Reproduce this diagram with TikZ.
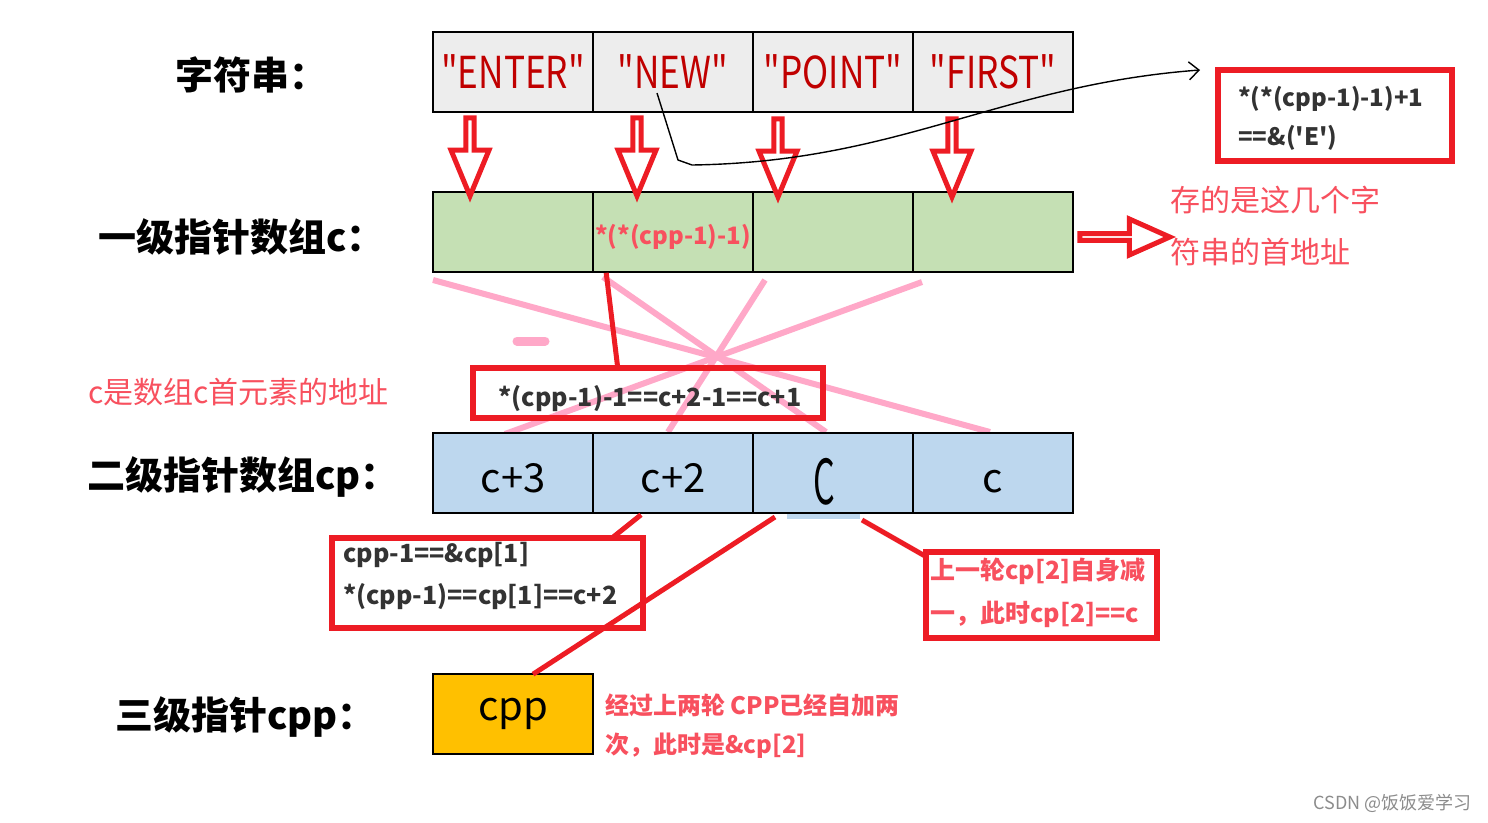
\documentclass[tikz,border=0pt]{standalone}
\usepackage{fontspec}
\setmainfont{Noto Sans CJK SC}[Ligatures=TeXOff]
\usetikzlibrary{shapes.arrows,arrows.meta}
\definecolor{strgray}{HTML}{EDEDED}
\definecolor{cgreen}{HTML}{C5E0B4}
\definecolor{cpblue}{HTML}{BDD7EE}
\definecolor{cppyellow}{HTML}{FFC000}
\definecolor{frame}{HTML}{ED1C24}
\definecolor{darkred}{HTML}{C00000}
\definecolor{notered}{HTML}{F8505E}
\definecolor{pinkline}{HTML}{FFA8C8}
\definecolor{darktext}{HTML}{333333}
\newcommand\pxsize[1]{\fontsize{#1}{#1}\selectfont}
\newcommand\cellword[1]{\scalebox{0.8}[1]{#1}}
\tikzset{cell/.style={
    rectangle,
    draw,
    line width=1.6pt,
    minimum width=160pt,
    minimum height=80pt,
    inner sep=0pt
  },
  strcell/.style={cell,fill=strgray,text=darkred,font=\pxsize{44}},
  ccell/.style={cell,fill=cgreen},
  cpcell/.style={cell,fill=cpblue,text=black,font=\pxsize{40},text height=38pt,text depth=0pt},
  cppcell/.style={cell,fill=cppyellow,text=black,font=\pxsize{40}},
  rowlabel/.style={anchor=west,font=\bfseries\pxsize{38},inner sep=0pt},
  redbox/.style={draw=frame,line width=6pt,inner sep=0pt},
  boxtext/.style={text=darktext,font=\bfseries\pxsize{25},align=left,inner sep=0pt},
  notetext/.style={text=notered,font=\pxsize{30},align=left,anchor=west,inner sep=0pt},
  hollowdown/.style={single arrow,draw=frame,fill=white,line width=5pt,
    minimum height=78pt,minimum width=38pt,single arrow head extend=9pt,
    single arrow tip angle=45,inner sep=0pt,shape border rotate=270},
  pinkl/.style={pinkline,line width=6pt},
  redl/.style={frame,line width=5pt},
}
\begin{document}
\begin{tikzpicture}[x=1pt,y=-1pt]
  \useasboundingbox[fill=white] (0,0) rectangle (1488,822);
  % row labels
  \node[rowlabel] (lstr) at (175,75) {字符串：};
  \node[rowlabel] (lc) at (98,237) {一级指针数组c：};
  \node[rowlabel] (lcp) at (87,477) {二级指针数组cp：};
  \node[rowlabel] (lcpp) at (115,717) {三级指针cpp：};
  % pink crossing lines
  \draw[pinkl] (433,280) -- (990,432);
  \draw[pinkl] (603,277) -- (826,432);
  \draw[pinkl] (765,280) -- (668,432);
  \draw[pinkl] (922,282) -- (505,434);
  \draw[pinkl,line width=9pt,line cap=round] (517,341) -- (545,341);
  % string row
  \node[strcell] (s1) at (513,72) {\cellword{"ENTER"}};
  \node[strcell] (s2) at (673,72) {\cellword{"NEW"}};
  \node[strcell] (s3) at (833,72) {\cellword{"POINT"}};
  \node[strcell] (s4) at (993,72) {\cellword{"FIRST"}};
  % first level pointers
  \node[ccell] (c1) at (513,232) {};
  \node[ccell,text height=24pt,text depth=0pt] (c2) at (673,232) {\textcolor{notered}{\bfseries\pxsize{24}*(*(cpp-1)-1)}};
  \node[ccell] (c3) at (833,232) {};
  \node[ccell] (c4) at (993,232) {};
  % second level pointers
  \fill[cpblue] (787,510) rectangle (860,519);
  \node[cpcell] (p1) at (513,473) {c+3};
  \node[cpcell] (p2) at (673,473) {c+2};
  \node[cpcell] (p3) at (833,473) {\hspace*{-18pt}\raisebox{-12pt}{\scalebox{0.85}[1.55]{C}}};
  \node[cpcell] (p4) at (993,473) {c};
  % third level pointer
  \node[cppcell] (cpp) at (513,714) {cpp};
  % hollow arrows
  \node[hollowdown] (a1) at (470,152) {};
  \node[hollowdown] (a2) at (637,152) {};
  \node[hollowdown] (a3) at (778,153) {};
  \node[hollowdown] (a4) at (952,153) {};
  \node[single arrow,draw=frame,fill=white,line width=5pt,minimum height=90pt,
    minimum width=36pt,single arrow head extend=11pt,single arrow tip angle=48,
    inner sep=0pt] (ar) at (1121,237) {};
  % black hand curve
  \coordinate (newtail) at (657,93);
  \coordinate (etip) at (1200,70);
  \draw[line width=1.4pt,-{Straight Barb[length=10pt,width=18pt]}] (newtail) -- (678,160)
    -- (692,165) .. controls (900,162) and (1000,85) .. (etip);
  % boxes
  \node[redbox,minimum width=234pt,minimum height=91pt] (bE) at (1335,115) {};
  \node[boxtext,anchor=north west,font=\bfseries\pxsize{24}] at (1238,86) {*(*(cpp-1)-1)+1\\[13pt]==\&('E')};
  \node[notetext] (nc) at (1170,200) {存的是这几个字};
  \node[notetext] at (1170,252) {符串的首地址};
  \node[notetext] (nfirst) at (88,392) {c是数组c首元素的地址};
  \node[redbox,minimum width=350pt,minimum height=50pt] (bmid) at (648,393) {};
  \node[boxtext] at (650,399) {*(cpp-1)-1==c+2-1==c+1};
  \node[redbox,minimum width=311pt,minimum height=90pt] (b1) at (487.5,583) {};
  \node[boxtext,anchor=north west] at (343,542) {cpp-1==\&cp[1]\\[15pt]*(cpp-1)==cp[1]==c+2};
  \node[redbox,minimum width=231pt,minimum height=86pt] (b3) at (1041.5,595) {};
  \node[boxtext,text=notered,anchor=north west] at (930,558) {上一轮cp[2]自身减\\[15pt]一，此时cp[2]==c};
  \node[boxtext,text=notered,anchor=north west,font=\bfseries\pxsize{24}] (ncpp) at (605,694) {经过上两轮 CPP已经自加两\\[15pt]次，此时是\&cp[2]};
  % red pointers
  \draw[redl] (c2.south west) ++(14,0) -- (618,370);
  \draw[redl] (p2.south) ++(-32,1) -- (612,538);
  \draw[redl] (775,517) -- ([shift={(20,1)}]cpp.north);
  \draw[redl] (862,520) -- (925,556);
  % watermark
  \node[text=black!45,font=\pxsize{18},anchor=east] (wm) at (1475,803) {CSDN @饭饭爱学习};
\end{tikzpicture}
\end{document}
